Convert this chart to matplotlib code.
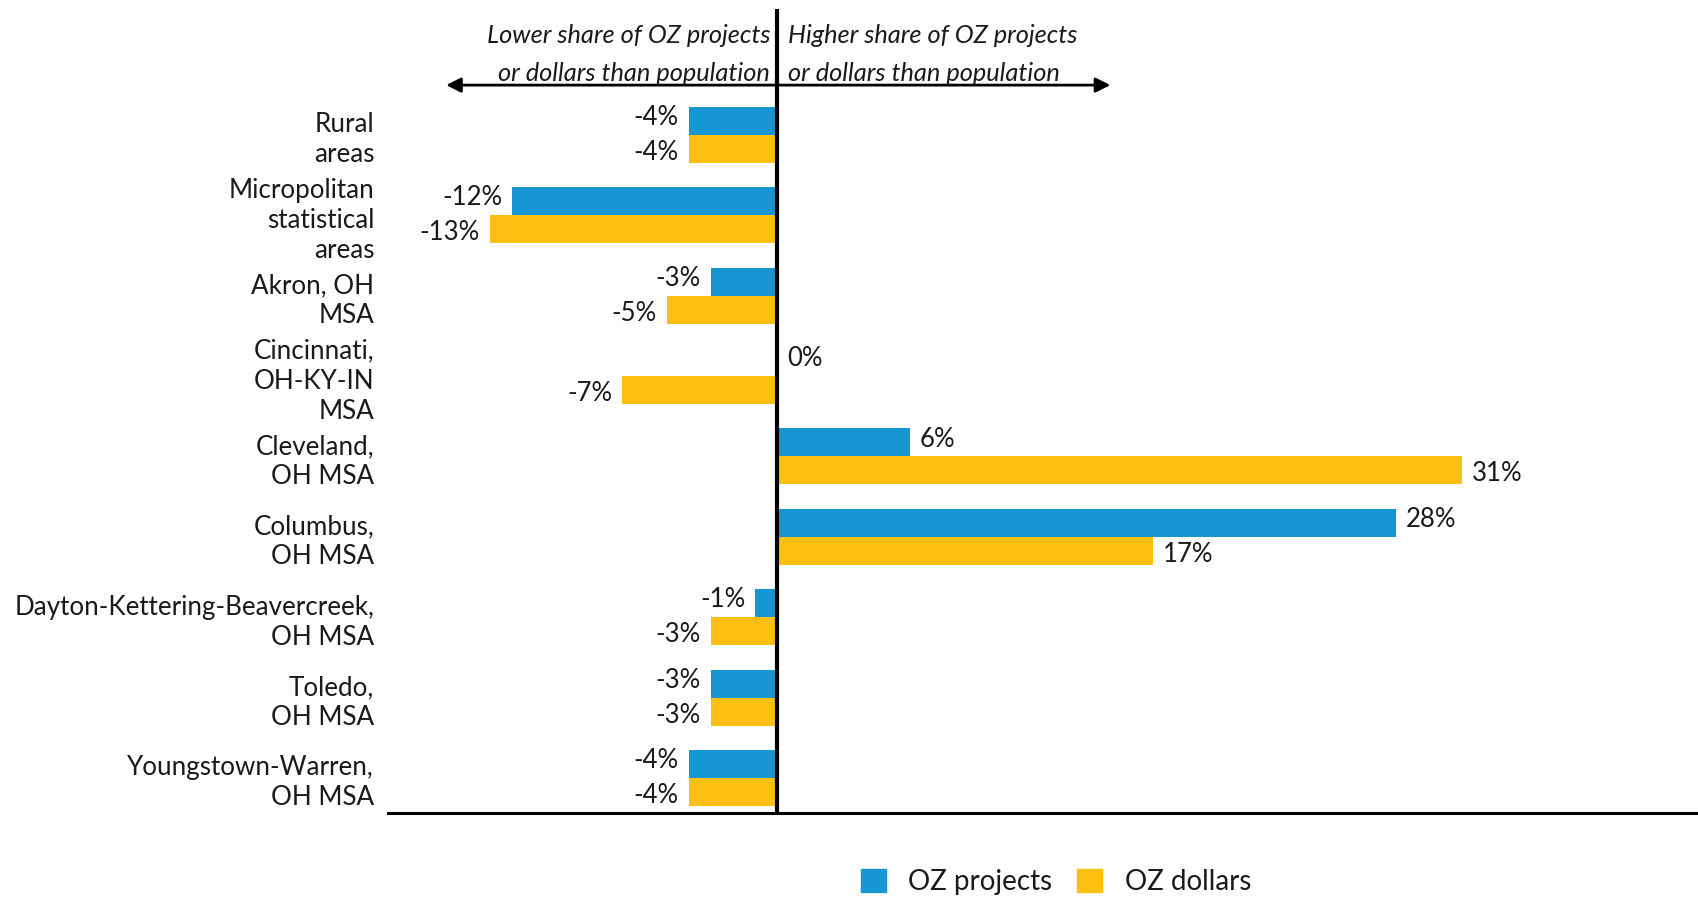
import matplotlib
import matplotlib.pyplot as plt
from matplotlib.patches import Patch

matplotlib.use('Agg')
plt.rcParams['font.family'] = ['Lato', 'DejaVu Sans']

# ================= DATA =================
categories = [
    "Rural\nareas",
    "Micropolitan\nstatistical\nareas",
    "Akron, OH\nMSA",
    "Cincinnati,\nOH-KY-IN\nMSA",
    "Cleveland,\nOH MSA",
    "Columbus,\nOH MSA",
    "Dayton-Kettering-Beavercreek,\nOH MSA",
    "Toledo,\nOH MSA",
    "Youngstown-Warren,\nOH MSA",
]
oz_projects = [-4, -12, -3, 0, 6, 28, -1, -3, -4]
oz_dollars = [-4, -13, -5, -7, 31, 17, -3, -3, -4]
series_names = ["OZ projects", "OZ dollars"]

BLUE = '#1696d2'
YELLOW = '#fdbf11'
TXT = '#1a1a1a'

fig = plt.figure(figsize=(16.99, 8.98), dpi=100)
ax = fig.add_axes([0.2284, 0.0947, 0.7716, 0.8953])

h = 0.348
ys = list(range(len(categories)))
ax.barh([y - h / 2 for y in ys], oz_projects, height=h, color=BLUE)
ax.barh([y + h / 2 for y in ys], oz_dollars, height=h, color=YELLOW)

# value labels
for vals, sign, dy in [(oz_projects, -1, 2.5), (oz_dollars, 1, -2.5)]:
    for y, v in zip(ys, vals):
        ypos = y + sign * h / 2
        if v < 0:
            ax.annotate(f"{v}%", (v, ypos), xytext=(-7, dy), textcoords='offset points',
                        ha='right', va='center', fontsize=18.5, color=TXT)
        else:
            ax.annotate(f"{v}%", (v, ypos), xytext=(7, dy), textcoords='offset points',
                        ha='left', va='center', fontsize=18.5, color=TXT)

ax.set_xlim(-17.6, 41.7)
ax.set_ylim(len(categories) - 1 + 0.435, -1.567)

ax.set_yticks(ys)
ax.set_yticklabels(categories, fontsize=18.7, color=TXT, linespacing=1.25)
ax.tick_params(axis='y', length=0, pad=10)
ax.set_xticks([])

for s in ['top', 'right', 'left']:
    ax.spines[s].set_visible(False)
ax.spines['bottom'].set_linewidth(2.2)
ax.axvline(0, color='black', lw=3, zorder=5)

# direction arrow + notes
ax.annotate('', xy=(-15.1, -0.62), xytext=(15.2, -0.62),
            arrowprops=dict(arrowstyle='<|-|>', color='black', lw=2, mutation_scale=22))
ax.text(-0.32, -1.231, "Lower share of OZ projects", ha='right', va='center',
        style='italic', fontsize=18.3, color=TXT)
ax.text(-0.32, -0.76, "or dollars than population", ha='right', va='center',
        style='italic', fontsize=18.3, color=TXT)
ax.text(0.5, -1.231, "Higher share of OZ projects", ha='left', va='center',
        style='italic', fontsize=18.3, color=TXT)
ax.text(0.5, -0.76, "or dollars than population", ha='left', va='center',
        style='italic', fontsize=18.3, color=TXT)

handles = [Patch(color=BLUE), Patch(color=YELLOW)]
fig.legend(handles, series_names, loc='center', bbox_to_anchor=(1056 / 1699, 1 - 882 / 898),
           ncol=2, frameon=False, fontsize=20, handlelength=0.9, handleheight=0.9,
           handletextpad=0.8, columnspacing=0.9, labelcolor=TXT)

plt.savefig('out.png', dpi=100)
plt.close()
